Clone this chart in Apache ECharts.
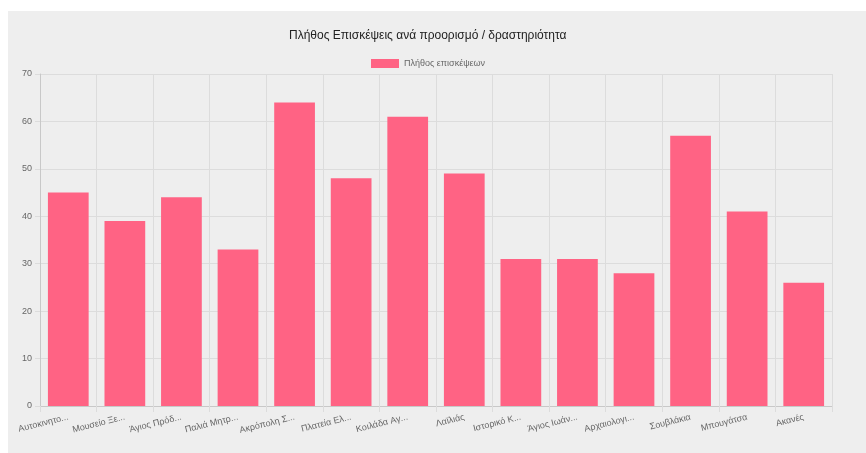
<!DOCTYPE html>
<html>
<head>
<meta charset="utf-8">
<script src="https://cdn.jsdelivr.net/npm/echarts@6/dist/echarts.min.js"></script>
<style>
  html, body { margin: 0; padding: 0; background: #fff; }
  #chart { position: absolute; left: 8px; top: 11px; width: 858px; height: 442px; background: #eeeeee; }
</style>
</head>
<body>
<div id="chart"></div>
<script>
// data
const categories = ['Αυτοκινητο...', 'Μουσείο Ξε...', 'Άγιος Πρόδ...', 'Παλιά Μητρ...', 'Ακρόπολη Σ...', 'Πλατεία Ελ...', 'Κοιλάδα Αγ...', 'Λαϊλιάς', 'Ιστορικό Κ...', 'Άγιος Ιωάν...', 'Αρχαιολογι...', 'Σουβλάκια', 'Μπουγάτσα', 'Ακανές']
const visits = [45, 39, 44, 33, 64, 48, 61, 49, 31, 31, 28, 57, 41, 26]
const seriesName = 'Πλήθος επισκέψεων'
const chartTitle = 'Πλήθος Επισκέψεις ανά προορισμό / δραστηριότητα'

const font = 'Arial, "Liberation Sans", sans-serif'
let myChart = echarts.init(document.getElementById('chart'))
let option = {
  textStyle: { fontFamily: font },
  title: {
    text: chartTitle,
    left: 276,
    top: 14,
    textStyle: { fontSize: 12, fontWeight: 'normal', color: '#222', fontFamily: font }
  },
  legend: {
    data: [seriesName],
    left: 358,
    top: 43,
    itemWidth: 28,
    itemHeight: 9,
    itemGap: 5,
    icon: 'rect',
    textStyle: { fontSize: 9, color: '#666', fontFamily: font }
  },
  grid: {
    left: 32,
    right: 34,
    top: 63,
    bottom: 47
  },
  xAxis: {
    type: 'category',
    data: categories,
    boundaryGap: true,
    axisLine: { lineStyle: { color: '#c8c8c8' } },
    axisTick: { show: true, length: 6, lineStyle: { color: '#dcdcdc' } },
    splitLine: { show: true, lineStyle: { color: '#dcdcdc' } },
    axisLabel: {
      interval: 0,
      rotate: 14,
      margin: 11,
      fontSize: 9,
      color: '#666',
      fontFamily: font
    }
  },
  yAxis: {
    type: 'value',
    min: 0,
    max: 70,
    interval: 10,
    axisLine: { show: true, lineStyle: { color: '#c8c8c8' } },
    axisTick: { show: true, length: 5, lineStyle: { color: '#dcdcdc' } },
    splitLine: { show: true, lineStyle: { color: '#dcdcdc' } },
    axisLabel: { fontSize: 9, color: '#666', margin: 8, fontFamily: font }
  },
  series: [{
    name: seriesName,
    type: 'bar',
    data: visits,
    barCategoryGap: '28%',
    itemStyle: { color: '#ff6384' }
  }]
}
myChart.setOption(option)
</script>
</body>
</html>
